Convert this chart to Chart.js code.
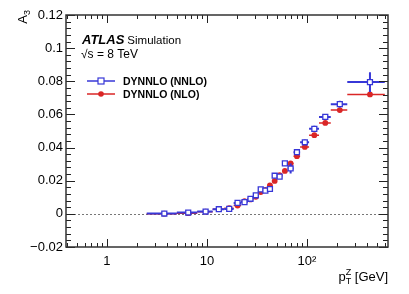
<!DOCTYPE html>
<html>
<head>
<meta charset="utf-8">
<script src="https://cdn.jsdelivr.net/npm/chart.js@4.4.1/dist/chart.umd.min.js"></script>
<style>
  html, body { margin: 0; padding: 0; background: #fff; }
  #wrap { width: 409px; height: 294px; }
</style>
</head>
<body>
<div id="wrap"><canvas id="a3Chart" width="409" height="294"></canvas></div>
<script>
// pT(Z) bin edges [GeV]
const binEdges = [2.5, 5, 8, 11.4, 14.9, 18.5, 22, 25.5, 29, 32.6, 36.4, 40.4, 44.9, 50.2, 56.4, 63.9, 73.4, 85.4, 105, 132, 173, 253, 600];

// A3, DYNNLO at NNLO
const nnloValues = [0.0002, 0.0008, 0.0014, 0.0028, 0.0030, 0.0066, 0.0071, 0.0091, 0.0112, 0.0148, 0.0140, 0.0150, 0.0230, 0.0225, 0.0305, 0.0274, 0.0372, 0.0432, 0.0513, 0.0585, 0.0662, 0.0795];
const nnloErrors = [0.0004, 0.0004, 0.0005, 0.0005, 0.0006, 0.0006, 0.0007, 0.0008, 0.0008, 0.0010, 0.0010, 0.0011, 0.0012, 0.0013, 0.0014, 0.0030, 0.0016, 0.0016, 0.0018, 0.0018, 0.0020, 0.0060];

// A3, DYNNLO at NLO
const nloValues = [0.0001, 0.0004, 0.0013, 0.0028, 0.0034, 0.0050, 0.0076, 0.0087, 0.0103, 0.0132, 0.0144, 0.0172, 0.0199, 0.0233, 0.0259, 0.0304, 0.0348, 0.0404, 0.0475, 0.0549, 0.0626, 0.0721];
const nloErrors = [0.0002, 0.0002, 0.0002, 0.0002, 0.0003, 0.0003, 0.0003, 0.0003, 0.0003, 0.0003, 0.0004, 0.0004, 0.0004, 0.0004, 0.0004, 0.0005, 0.0005, 0.0005, 0.0005, 0.0006, 0.0006, 0.0006];

// axis ticks
const xMajorTicks = [1, 10, 100];
const xTickLabels = ['1', '10', '10\u00b2'];
const yMajorTicks = [-0.02, 0, 0.02, 0.04, 0.06, 0.08, 0.1, 0.12];
const yTickLabels = ['\u22120.02', '0', '0.02', '0.04', '0.06', '0.08', '0.1', '0.12'];

const FONT = '"Liberation Sans", Arial, Helvetica, sans-serif';
const BLUE = 'rgb(55, 55, 215)';
const RED = 'rgb(218, 38, 38)';

function makePoints(values, errors) {
    return values.map((v, i) => {
        const lo = binEdges[i], hi = binEdges[i + 1];
        return { x: (lo + hi) / 2, y: v, xMin: lo, xMax: hi, yErr: errors[i] };
    });
}

// error bars drawn right before each dataset's markers
const errorBarPlugin = {
    id: 'errorBars',
    beforeDatasetDraw(chart, args) {
        const ds = chart.data.datasets[args.index];
        const xs = chart.scales.x, ys = chart.scales.y;
        const ctx = chart.ctx;
        const area = chart.chartArea;
        ctx.save();
        ctx.beginPath();
        ctx.rect(area.left, area.top, area.right - area.left, area.bottom - area.top);
        ctx.clip();
        ctx.strokeStyle = ds.borderColor;
        ctx.lineWidth = ds.barWidth;
        ds.data.forEach(p => {
            const py = ys.getPixelForValue(p.y);
            const px = xs.getPixelForValue(p.x);
            ctx.beginPath();
            ctx.moveTo(xs.getPixelForValue(p.xMin), py);
            ctx.lineTo(xs.getPixelForValue(p.xMax), py);
            ctx.moveTo(px, ys.getPixelForValue(p.y - p.yErr));
            ctx.lineTo(px, ys.getPixelForValue(p.y + p.yErr));
            ctx.stroke();
        });
        ctx.restore();
    }
};

// frame, inward ticks, zero line, texts
const atlasPlugin = {
    id: 'atlasStyle',
    beforeDatasetsDraw(chart) {
        const ctx = chart.ctx;
        const a = chart.chartArea;
        const y0 = chart.scales.y.getPixelForValue(0);
        ctx.save();
        ctx.strokeStyle = '#777';
        ctx.lineWidth = 1;
        ctx.setLineDash([2, 2]);
        ctx.beginPath();
        ctx.moveTo(a.left, Math.round(y0) + 0.5);
        ctx.lineTo(a.right, Math.round(y0) + 0.5);
        ctx.stroke();
        ctx.restore();
    },
    afterDraw(chart) {
        const ctx = chart.ctx;
        const a = chart.chartArea;
        const xs = chart.scales.x, ys = chart.scales.y;
        ctx.save();
        ctx.strokeStyle = '#222';
        ctx.lineWidth = 1;

        // y ticks (major + minor), left and right
        for (let k = 0; k <= 35; k++) {
            const v = -0.02 + k * 0.004;
            const py = Math.round(ys.getPixelForValue(v)) + 0.5;
            const len = (k % 5 === 0) ? 9 : 5;
            ctx.beginPath();
            ctx.moveTo(a.left, py); ctx.lineTo(a.left + len, py);
            ctx.moveTo(a.right, py); ctx.lineTo(a.right - len, py);
            ctx.stroke();
        }
        // x ticks (log), bottom and top
        for (let d = -1; d <= 2; d++) {
            for (let m = 1; m <= 9; m++) {
                const v = m * Math.pow(10, d);
                if (v < xs.min || v > xs.max) continue;
                const px = Math.round(xs.getPixelForValue(v)) + 0.5;
                const len = (m === 1) ? 8 : 4;
                ctx.beginPath();
                ctx.moveTo(px, a.bottom); ctx.lineTo(px, a.bottom - len);
                ctx.moveTo(px, a.top); ctx.lineTo(px, a.top + len);
                ctx.stroke();
            }
        }
        // frame
        ctx.lineWidth = 1.5;
        ctx.strokeStyle = '#333';
        ctx.strokeRect(a.left, a.top, a.right - a.left, a.bottom - a.top);

        ctx.fillStyle = '#000';
        ctx.textBaseline = 'alphabetic';
        ctx.textAlign = 'left';

        // ATLAS Simulation
        ctx.font = 'bold italic 13px ' + FONT;
        ctx.fillText('ATLAS', 82, 44);
        const wAtlas = ctx.measureText('ATLAS').width;
        ctx.font = '11.5px ' + FONT;
        ctx.fillText('Simulation', 82 + wAtlas + 3, 44);
        ctx.font = '12px ' + FONT;
        ctx.fillText('\u221As = 8 TeV', 81, 58);

        // legend
        const legend = [
            { label: 'DYNNLO (NNLO)', color: BLUE, y: 81, square: true },
            { label: 'DYNNLO (NLO)', color: RED, y: 94, square: false }
        ];
        legend.forEach(e => {
            ctx.strokeStyle = e.color;
            ctx.lineWidth = 1.5;
            ctx.beginPath();
            ctx.moveTo(87, e.y); ctx.lineTo(115, e.y);
            ctx.stroke();
            if (e.square) {
                ctx.fillStyle = '#fff';
                ctx.fillRect(98, e.y - 3, 6, 6);
                ctx.lineWidth = 1.2;
                ctx.strokeRect(98, e.y - 3, 6, 6);
            } else {
                ctx.fillStyle = e.color;
                ctx.beginPath();
                ctx.arc(101, e.y, 2.8, 0, Math.PI * 2);
                ctx.fill();
            }
            ctx.fillStyle = '#000';
            ctx.font = 'bold 10.5px ' + FONT;
            ctx.fillText(e.label, 123, e.y + 4);
        });

        // x title: p_T^Z [GeV]
        ctx.font = '13px ' + FONT;
        const wP = ctx.measureText('p').width;
        const wRest = ctx.measureText(' [GeV]').width;
        ctx.font = '9px ' + FONT;
        const wSub = Math.max(ctx.measureText('T').width, ctx.measureText('Z').width);
        const xStart = a.right - (wP + wSub + wRest);
        const base = 281;
        ctx.font = '13px ' + FONT;
        ctx.fillText('p', xStart, base);
        ctx.font = '9px ' + FONT;
        ctx.fillText('T', xStart + wP, base + 3);
        ctx.fillText('Z', xStart + wP, base - 6);
        ctx.font = '13px ' + FONT;
        ctx.fillText(' [GeV]', xStart + wP + wSub, base);

        // y title: A_3
        ctx.translate(27, 10);
        ctx.rotate(-Math.PI / 2);
        ctx.textAlign = 'left';
        ctx.font = '9px ' + FONT;
        const w3 = ctx.measureText('3').width;
        ctx.font = '13px ' + FONT;
        const wA = ctx.measureText('A').width;
        ctx.fillText('A', -(wA + w3), 0);
        ctx.font = '9px ' + FONT;
        ctx.fillText('3', -w3, 3);
        ctx.restore();
    }
};

const ctx = document.getElementById('a3Chart').getContext('2d');
new Chart(ctx, {
    type: 'scatter',
    data: {
        datasets: [{
            label: 'DYNNLO (NNLO)',
            data: makePoints(nnloValues, nnloErrors),
            borderColor: BLUE,
            backgroundColor: '#fff',
            pointStyle: 'rect',
            pointRadius: 3.5,
            pointBorderWidth: 1.3,
            barWidth: 2
        }, {
            label: 'DYNNLO (NLO)',
            data: makePoints(nloValues, nloErrors),
            borderColor: RED,
            backgroundColor: RED,
            pointStyle: 'circle',
            pointRadius: 2.9,
            pointBorderWidth: 0,
            barWidth: 1.5
        }]
    },
    options: {
        responsive: false,
        animation: false,
        layout: { padding: { top: 15, right: 21, left: 0, bottom: 0 } },
        plugins: {
            legend: { display: false },
            tooltip: { enabled: false }
        },
        scales: {
            x: {
                type: 'logarithmic',
                min: 0.39,
                max: 646,
                grid: { display: false, drawTicks: false },
                border: { display: false },
                afterBuildTicks: scale => {
                    scale.ticks = xMajorTicks.map(v => ({ value: v }));
                },
                afterFit: scale => { scale.height = 47; },
                ticks: {
                    autoSkip: false,
                    maxRotation: 0,
                    padding: 7,
                    color: '#000',
                    font: { family: FONT, size: 13 },
                    callback: (v) => xTickLabels[xMajorTicks.indexOf(v)]
                }
            },
            y: {
                min: -0.02,
                max: 0.12,
                grid: { display: false, drawTicks: false },
                border: { display: false },
                afterBuildTicks: scale => {
                    scale.ticks = yMajorTicks.map(v => ({ value: v }));
                },
                afterFit: scale => { scale.width = 66; },
                ticks: {
                    padding: 3,
                    color: '#000',
                    font: { family: FONT, size: 13 },
                    callback: (v) => {
                        const i = yMajorTicks.findIndex(t => Math.abs(t - v) < 1e-9);
                        return i >= 0 ? yTickLabels[i] : '';
                    }
                }
            }
        }
    },
    plugins: [errorBarPlugin, atlasPlugin]
});
</script>
</body>
</html>
